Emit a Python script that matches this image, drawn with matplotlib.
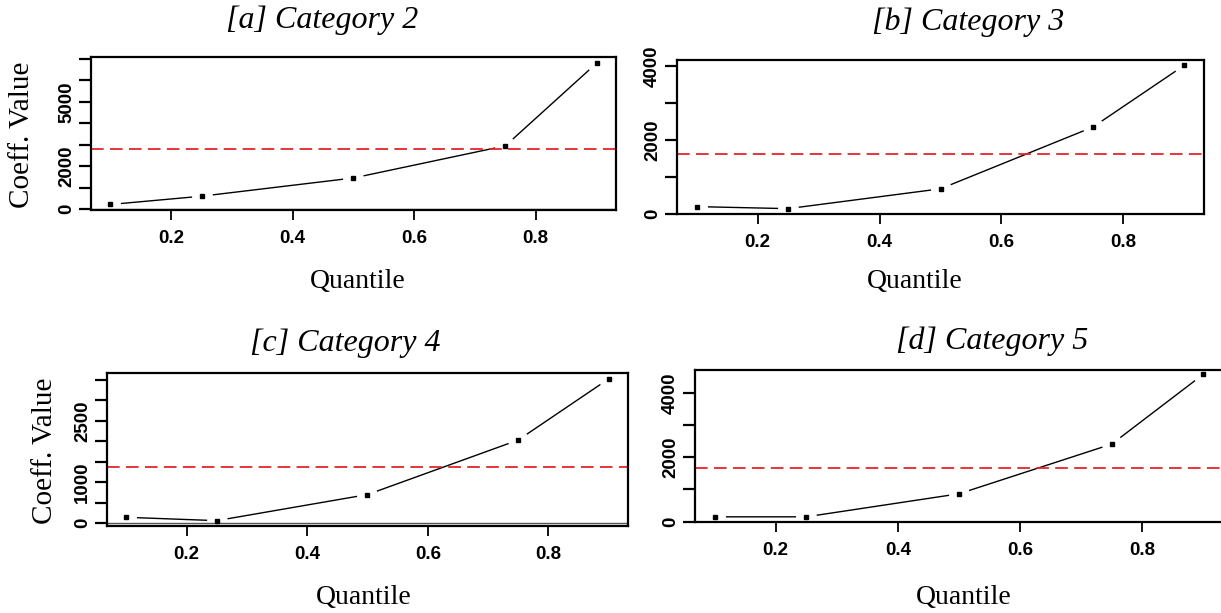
import matplotlib
matplotlib.use("Agg")
import matplotlib.pyplot as plt

# Quantile levels and estimated coefficients per category
quantiles = [0.1, 0.25, 0.5, 0.75, 0.9]

coef_cat2 = [215, 600, 1450, 2950, 6800]
coef_cat3 = [200, 145, 682, 2355, 4030]
coef_cat4 = [139, 57, 695, 2030, 3527]
coef_cat5 = [146, 146, 865, 2417, 4600]

# OLS reference coefficient (red dashed line)
ols_cat2 = 2790
ols_cat3 = 1615
ols_cat4 = 1358
ols_cat5 = 1675

titles = ["[a] Category 2", "[b] Category 3", "[c] Category 4", "[d] Category 5"]

xticks = [0.2, 0.4, 0.6, 0.8]
xticklabels = ["0.2", "0.4", "0.6", "0.8"]

yticks_cat2 = [0, 1000, 2000, 3000, 4000, 5000, 6000, 7000]
yticklabels_cat2 = ["0", "", "2000", "", "", "5000", "", ""]
yticks_cat3 = [0, 1000, 2000, 3000, 4000]
yticklabels_cat3 = ["0", "", "2000", "", "4000"]
yticks_cat4 = [0, 500, 1000, 1500, 2000, 2500, 3000, 3500]
yticklabels_cat4 = ["0", "", "1000", "", "", "2500", "", ""]
yticks_cat5 = [0, 1000, 2000, 3000, 4000]
yticklabels_cat5 = ["0", "", "2000", "", "4000"]

# ---- layout (pixel positions on a 1221 x 613 canvas) ----
W, H = 1221, 613
fig = plt.figure(figsize=(W / 100, H / 100), dpi=100)


def px_box(left, top, right, bottom):
    return [left / W, 1 - bottom / H, (right - left) / W, (bottom - top) / H]


def px_text(x, y, s, **kw):
    fig.text(x / W, 1 - y / H, s, ha="center", va="center", **kw)


panels = [
    dict(box=(91, 57, 616, 209.5), ylim=(-20, 7090), y=coef_cat2, ols=ols_cat2,
         yt=yticks_cat2, ytl=yticklabels_cat2, title=(322, 20), xlab=(358, 281), ylab=(22, 135)),
    dict(box=(677, 60, 1204, 214), ylim=(0, 4170), y=coef_cat3, ols=ols_cat3,
         yt=yticks_cat3, ytl=yticklabels_cat3, title=(968, 22), xlab=(915, 282), ylab=None),
    dict(box=(107, 373, 628, 526), ylim=(-74, 3670), y=coef_cat4, ols=ols_cat4,
         yt=yticks_cat4, ytl=yticklabels_cat4, title=(345, 343), xlab=(364, 597), ylab=(45, 451)),
    dict(box=(695, 370, 1223, 521.5), ylim=(0, 4730), y=coef_cat5, ols=ols_cat5,
         yt=yticks_cat5, ytl=yticklabels_cat5, title=(992, 341), xlab=(964, 597), ylab=None),
]

serif = "Liberation Serif"
sans = "Liberation Sans"

for p, title in zip(panels, titles):
    ax = fig.add_axes(px_box(*p["box"]))
    ax.set_xlim(0.068, 0.932)
    ax.set_ylim(*p["ylim"])

    # R-style "b" plot: line with gaps around the points
    ax.plot(quantiles, p["y"], color="black", lw=1.0, zorder=2.0)
    ax.plot(quantiles, p["y"], ls="none", marker="o", ms=14, mfc="white",
            mec="white", zorder=2.1)
    ax.axhline(0, color="#555555", lw=1.0, zorder=2.2)
    ax.axhline(p["ols"], color="#e3262a", lw=1.3, dashes=(7, 3.5), zorder=2.3)
    ax.plot(quantiles, p["y"], ls="none", marker="s", ms=2.7, color="black", zorder=2.4)

    for s in ax.spines.values():
        s.set_linewidth(1.6)
        s.set_zorder(3)

    ax.set_xticks(xticks)
    ax.set_xticklabels(xticklabels, fontfamily=sans, fontweight="bold", fontsize=13.5)
    ax.set_yticks(p["yt"])
    ax.set_yticklabels(p["ytl"], fontfamily=sans, fontweight="bold", fontsize=13.5,
                       rotation=90, va="center")
    ax.tick_params(axis="x", length=7.5, width=1.3, pad=7)
    ax.tick_params(axis="y", length=8.5, width=1.6, pad=3)

    px_text(*p["title"], title, fontfamily=serif, style="italic", fontsize=23)
    px_text(*p["xlab"], "Quantile", fontfamily=serif, fontsize=20)
    if p["ylab"] is not None:
        px_text(*p["ylab"], "Coeff. Value", fontfamily=serif, fontsize=21, rotation=90)

fig.savefig("out.png", dpi=100)
